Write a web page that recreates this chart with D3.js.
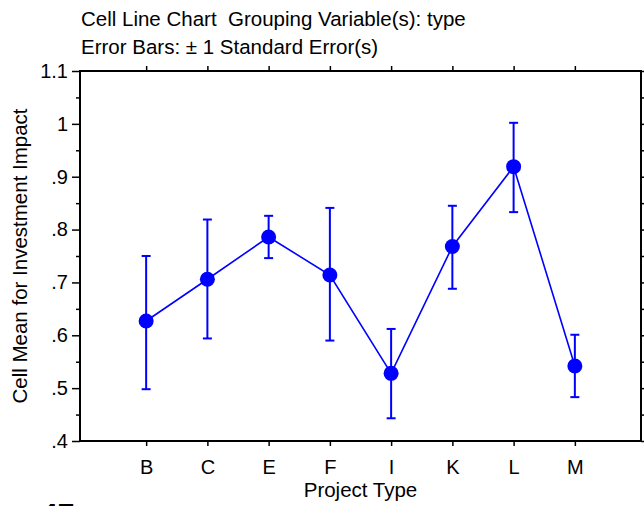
<!DOCTYPE html>
<html>
<head>
<meta charset="utf-8">
<script src="https://cdn.jsdelivr.net/npm/d3@7"></script>
<style>
  body { margin: 0; background: #fff; }
  svg { display: block; }
  text { font-family: "Liberation Sans", Arial, Helvetica, sans-serif; fill: #000; white-space: pre; }
</style>
</head>
<body>
<svg id="chart" width="644" height="506"></svg>
<script>
const categories = ["B", "C", "E", "F", "I", "K", "L", "M"];
const means = [0.627, 0.706, 0.786, 0.714, 0.528, 0.768, 0.919, 0.542];
const upper = [0.750, 0.819, 0.826, 0.841, 0.612, 0.845, 1.002, 0.601];
const lower = [0.498, 0.594, 0.746, 0.590, 0.443, 0.688, 0.833, 0.483];
const yTicks = [0.4, 0.5, 0.6, 0.7, 0.8, 0.9, 1.0, 1.1];
const yTickLabels = [".4", ".5", ".6", ".7", ".8", ".9", "1", "1.1"];
const titleLines = ["Cell Line Chart  Grouping Variable(s): type", "Error Bars: \u00b1 1 Standard Error(s)"];
const xTitle = "Project Type";
const yTitle = "Cell Mean for Investment Impact";
const cornerLabel = "47";

const svg = d3.select("#chart");
const m = { left: 80, right: 3, top: 71, bottom: 65 };
const W = 644, H = 506;
const x0 = m.left, x1 = W - m.right, y0 = H - m.bottom, y1 = m.top;

const x = d3.scalePoint().domain(categories).range([x0, x1]).padding(1.08);
const y = d3.scaleLinear().domain([0.4, 1.1]).range([y0, y1]);

const data = categories.map((c, i) => ({ c, m: means[i], hi: upper[i], lo: lower[i] }));

// minor ticks every 0.05
const minor = d3.range(0.45, 1.1, 0.1).map(v => +v.toFixed(2));

// Left axis
const left = svg.append("g").attr("transform", `translate(${x0},0)`)
  .call(d3.axisLeft(y).tickValues(yTicks).tickSize(8).tickPadding(4)
    .tickFormat((d, i) => yTickLabels[i]));
left.select(".domain").remove();
left.selectAll(".tick line").attr("stroke", "#000").attr("stroke-width", 1.5);
left.selectAll(".tick text").style("font-size", "20px").attr("fill", "#000");
svg.append("g").attr("transform", `translate(${x0},0)`)
  .call(d3.axisLeft(y).tickValues(minor).tickSize(4).tickFormat(""))
  .call(g => g.select(".domain").remove())
  .selectAll(".tick line").attr("stroke", "#000").attr("stroke-width", 1.5);

// Right axis ticks (outward)
svg.append("g").attr("transform", `translate(${x1},0)`)
  .call(d3.axisRight(y).tickValues(yTicks.concat(minor)).tickSize(5).tickFormat(""))
  .call(g => g.select(".domain").remove())
  .selectAll(".tick line").attr("stroke", "#000").attr("stroke-width", 1.5);

// Bottom axis
const bottom = svg.append("g").attr("transform", `translate(0,${y0})`)
  .call(d3.axisBottom(x).tickSize(5).tickPadding(14));
bottom.select(".domain").remove();
bottom.selectAll(".tick line").attr("stroke", "#000").attr("stroke-width", 1.5);
bottom.selectAll(".tick text").style("font-size", "20px").attr("fill", "#000");

// Top axis ticks
svg.append("g").attr("transform", `translate(0,${y1})`)
  .call(d3.axisTop(x).tickSize(5).tickFormat(""))
  .call(g => g.select(".domain").remove())
  .selectAll(".tick line").attr("stroke", "#000").attr("stroke-width", 1.5);

// Frame
svg.append("rect").attr("x", x0).attr("y", y1).attr("width", x1 - x0).attr("height", y0 - y1)
  .attr("fill", "none").attr("stroke", "#000").attr("stroke-width", 2);

// Error bars
const blue = "#0000ff";
const eb = svg.append("g").attr("stroke", blue).attr("stroke-width", 2);
data.forEach(d => {
  const cx = x(d.c);
  eb.append("line").attr("x1", cx).attr("x2", cx).attr("y1", y(d.lo)).attr("y2", y(d.hi));
  eb.append("line").attr("x1", cx - 4.5).attr("x2", cx + 4.5).attr("y1", y(d.lo)).attr("y2", y(d.lo));
  eb.append("line").attr("x1", cx - 4.5).attr("x2", cx + 4.5).attr("y1", y(d.hi)).attr("y2", y(d.hi));
});

// Line
svg.append("path").datum(data)
  .attr("fill", "none").attr("stroke", blue).attr("stroke-width", 1.6)
  .attr("d", d3.line().x(d => x(d.c)).y(d => y(d.m)));

// Points
svg.append("g").selectAll("circle").data(data).join("circle")
  .attr("cx", d => x(d.c)).attr("cy", d => y(d.m)).attr("r", 7.5).attr("fill", blue);

// Titles
svg.append("g").selectAll("text").data(titleLines).join("text")
  .attr("x", 81).attr("y", (d, i) => 26 + i * 28)
  .style("font-size", "20.5px").text(d => d);

svg.append("text").attr("x", (x0 + x1) / 2 - 0).attr("y", 497)
  .attr("text-anchor", "middle").style("font-size", "20.5px").text(xTitle);

svg.append("text").attr("transform", `translate(27,${(y0 + y1) / 2}) rotate(-90)`)
  .attr("text-anchor", "middle").style("font-size", "20.5px").text(yTitle);

svg.append("text").attr("x", 41).attr("y", 524)
  .style("font-size", "30px").style("font-weight", "bold").text(cornerLabel);
</script>
</body>
</html>
